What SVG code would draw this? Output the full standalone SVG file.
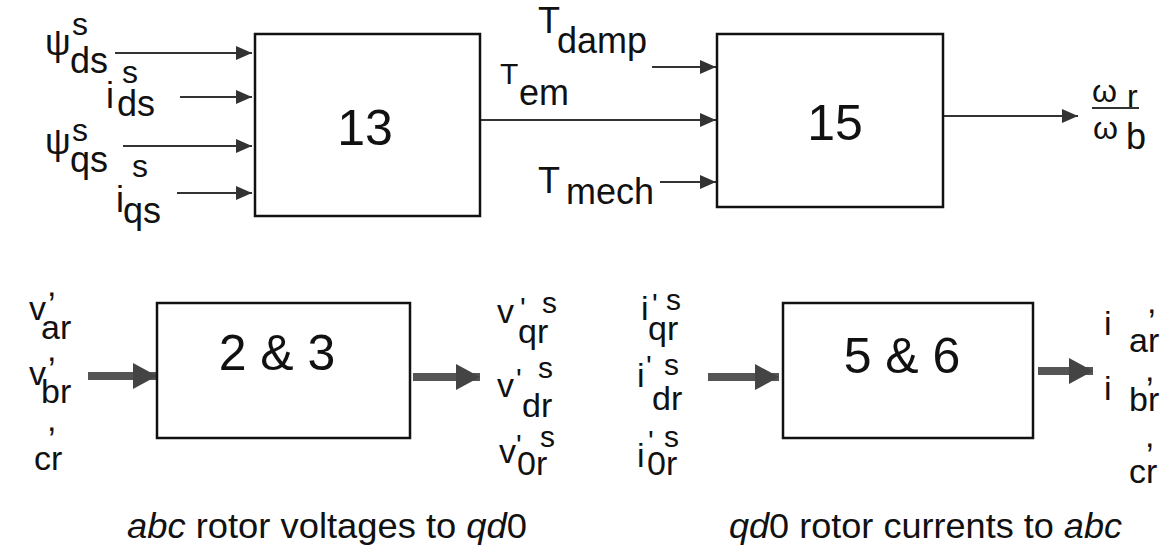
<svg xmlns="http://www.w3.org/2000/svg" width="1173" height="557" viewBox="0 0 1173 557">
<style>
text{font-family:"Liberation Sans",Arial,sans-serif;fill:#111}
.l{font-size:36px}
.s{font-size:32px}
.b{font-size:34px}
.bs{font-size:30px}
.n{font-size:50px}
.c{font-size:35px}
.box{fill:#fff;stroke:#111;stroke-width:2.5}
.thin{stroke:#333;stroke-width:2;fill:none}
.thick{stroke:#555;stroke-width:8;fill:none}
</style>
<defs>
<marker id="ah" markerUnits="userSpaceOnUse" markerWidth="16" markerHeight="14" refX="16" refY="7" orient="auto">
<path d="M0,0 L16,7 L0,14 z" fill="#333"/>
</marker>
<marker id="ahb" markerUnits="userSpaceOnUse" markerWidth="24" markerHeight="26" refX="24" refY="13" orient="auto">
<path d="M0,0 L24,13 L0,26 z" fill="#444"/>
</marker>
</defs>
<rect width="1173" height="557" fill="#fff"/>

<g id="connectors">
<line class="thin" x1="115" y1="53" x2="252" y2="53" marker-end="url(#ah)"/>
<line class="thin" x1="180" y1="97" x2="252" y2="97" marker-end="url(#ah)"/>
<line class="thin" x1="123" y1="146" x2="252" y2="146" marker-end="url(#ah)"/>
<line class="thin" x1="177" y1="193" x2="252" y2="193" marker-end="url(#ah)"/>
<line class="thin" x1="652" y1="67" x2="716" y2="67" marker-end="url(#ah)"/>
<line class="thin" x1="480" y1="120" x2="716" y2="120" marker-end="url(#ah)"/>
<line class="thin" x1="660" y1="182" x2="716" y2="182" marker-end="url(#ah)"/>
<line class="thin" x1="943" y1="116" x2="1078" y2="116" marker-end="url(#ah)"/>
<line class="thick" x1="88" y1="376" x2="157" y2="376" marker-end="url(#ahb)"/>
<line class="thick" x1="413" y1="377" x2="480" y2="377" marker-end="url(#ahb)"/>
<line class="thick" x1="708" y1="377" x2="779" y2="377" marker-end="url(#ahb)"/>
<line class="thick" x1="1038" y1="371" x2="1093" y2="371" marker-end="url(#ahb)"/>
</g>

<g id="node13">
<rect class="box" x="255" y="34" width="225" height="182"/>
<text class="n" x="365" y="145" text-anchor="middle">13</text>
</g>
<g id="node15">
<rect class="box" x="717" y="34" width="226" height="173"/>
<text class="n" x="835" y="140" text-anchor="middle">15</text>
</g>
<g id="node23">
<rect class="box" x="157" y="303" width="253" height="135"/>
<text class="n" x="277" y="370" text-anchor="middle">2 &amp; 3</text>
</g>
<g id="node56">
<rect class="box" x="783" y="303" width="250" height="135"/>
<text class="n" x="902" y="373" text-anchor="middle">5 &amp; 6</text>
</g>

<g id="inputs13">
<text class="l" x="45" y="55">ψ</text><text class="s" x="72" y="35">s</text><text class="l" x="70" y="73">ds</text>
<text class="s" x="122" y="83">s</text><text class="l" x="106" y="108">i</text><text class="l" x="117" y="116">ds</text>
<text class="l" x="45" y="154">ψ</text><text class="s" x="72" y="141">s</text><text class="l" x="70" y="172">qs</text>
<text class="s" x="132" y="177">s</text><text class="l" x="116" y="212">i</text><text class="l" x="123" y="223">qs</text>
</g>

<g id="torques">
<text class="l" x="538" y="33">T</text><text class="l" x="557" y="53">damp</text>
<text style="font-size:30px" x="500" y="84">T</text><text class="l" x="519" y="105">em</text>
<text class="l" x="538" y="193">T</text><text class="l" x="566" y="204">mech</text>
</g>

<g id="speed">
<text style="font-size:32px" x="1092" y="102">ω</text><text style="font-size:32px" x="1127" y="107">r</text>
<line x1="1092" y1="108" x2="1139" y2="108" stroke="#333" stroke-width="2"/>
<text style="font-size:32px" x="1093" y="139">ω</text><text class="l" x="1126" y="149">b</text>
</g>

<g id="vabc">
<text class="b" x="47" y="296">,</text>
<text class="b" x="29" y="320">v</text><text class="b" x="41" y="339">ar</text>
<text class="b" x="47" y="361">,</text>
<text class="b" x="29" y="385">v</text><text class="b" x="41" y="403">br</text>
<text class="b" x="47" y="431">,</text>
<text class="b" x="34" y="470">cr</text>
</g>

<g id="vqd0">
<text class="b" x="497" y="323">v</text><text class="bs" x="520" y="318">'</text><text class="bs" x="542" y="313">s</text><text class="b" x="518" y="343">qr</text>
<text class="b" x="497" y="397">v</text><text class="bs" x="516" y="389">'</text><text class="bs" x="538" y="378">s</text><text class="b" x="522" y="417">dr</text>
<text class="b" x="499" y="463">v</text><text class="bs" x="516" y="455">'</text><text class="bs" x="540" y="447">s</text><text class="b" x="517" y="475">0r</text>
</g>

<g id="iqd0">
<text class="b" x="641" y="320">i</text><text class="bs" x="652" y="314">'</text><text class="bs" x="666" y="310">s</text><text class="b" x="648" y="340">qr</text>
<text class="b" x="637" y="387">i</text><text class="bs" x="646" y="376">'</text><text class="bs" x="664" y="375">s</text><text class="b" x="652" y="410">dr</text>
<text class="b" x="637" y="467">i</text><text class="bs" x="648" y="451">'</text><text class="bs" x="664" y="447">s</text><text class="b" x="647" y="475">0r</text>
</g>

<g id="iabc">
<text class="b" x="1104" y="335">i</text><text class="b" x="1147" y="313">,</text><text class="b" x="1129" y="352">ar</text>
<text class="b" x="1104" y="400">i</text><text class="b" x="1145" y="381">,</text><text class="b" x="1129" y="411">br</text>
<text class="b" x="1145" y="447">,</text><text class="b" x="1129" y="483">cr</text>
</g>

<g id="captions">
<text class="c" x="127" y="538" textLength="400" lengthAdjust="spacingAndGlyphs"><tspan font-style="italic">abc</tspan> rotor voltages to <tspan font-style="italic">qd</tspan>0</text>
<text class="c" x="729" y="538" textLength="393" lengthAdjust="spacingAndGlyphs"><tspan font-style="italic">qd</tspan>0 rotor currents to <tspan font-style="italic">abc</tspan></text>
</g>
</svg>
